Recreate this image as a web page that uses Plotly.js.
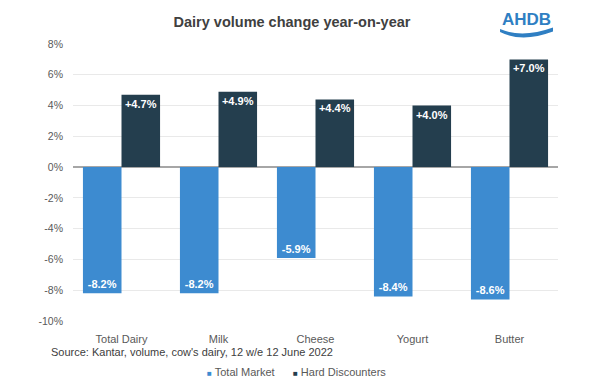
<!DOCTYPE html>
<html>
<head>
<meta charset="utf-8">
<script src="https://cdn.plot.ly/plotly-3.0.1.min.js"></script>
<style>html,body{margin:0;padding:0;background:#fff;}#chart{width:600px;height:390px;}</style>
</head>
<body>
<div id="chart"></div>
<script>
const categories = ["Total Dairy", "Milk", "Cheese", "Yogurt", "Butter"];
const totalMarket = [-8.2, -8.2, -5.9, -8.4, -8.6];
const hardDiscounters = [4.7, 4.9, 4.4, 4.0, 7.0];
const yTickVals = [-10, -8, -6, -4, -2, 0, 2, 4, 6, 8];
const yTickText = ["-10%", "-8%", "-6%", "-4%", "-2%", "0%", "2%", "4%", "6%", "8%"];
const seriesNames = ["Total Market", "Hard Discounters"];
const seriesColors = ["#3d8bd0", "#243e4e"];

const W = 600, H = 390;
const M = {l: 72.5, r: 42, t: 43.5, b: 69};
const pw = W - M.l - M.r, ph = H - M.t - M.b;
const px = x => (x - M.l) / pw;
const py = y => (H - M.b - y) / ph;

const fmt = v => (v > 0 ? "+" : "") + v.toFixed(1) + "%";
const font = "Liberation Sans, Arial, sans-serif";
const mk = (name, vals, color) => ({
  type: "bar", name: name, x: categories, y: vals,
  marker: {color: color},
  text: vals.map(v => "<b>" + fmt(v) + "</b>"), textposition: "inside", insidetextanchor: "end",
  textfont: {color: "#ffffff", size: 11, family: font}, hoverinfo: "skip", showlegend: false
});
const traces = [
  mk(seriesNames[0], totalMarket, seriesColors[0]),
  mk(seriesNames[1], hardDiscounters, seriesColors[1])
];

const wave = [[500,28.5],[553,27],[553,31],[500,31.5]];
const w = wave.map(p => [px(p[0]).toFixed(4), py(p[1]).toFixed(4)]);
const wavePath = `M ${w[0][0]},${w[0][1]} Q ${px(522).toFixed(4)},${py(38).toFixed(4)} ${w[1][0]},${w[1][1]} L ${w[2][0]},${w[2][1]} Q ${px(522).toFixed(4)},${py(42.5).toFixed(4)} ${w[3][0]},${w[3][1]} Z`;

const legendText = seriesNames.map((n, i) =>
  `<span style="color:${seriesColors[i]};font-size:8px">■</span> ${n}`).join("      ");

const layout = {
  width: W, height: H,
  margin: M,
  paper_bgcolor: "#ffffff", plot_bgcolor: "#ffffff",
  font: {family: font, color: "#595959", size: 11},
  title: {text: "<b>Dairy volume change year-on-year</b>", font: {family: font, size: 14.5, color: "#404040"},
          x: 292 / W, xanchor: "center", y: 1 - 22 / H, yanchor: "middle"},
  barmode: "group", bargap: 0.205, bargroupgap: 0,
  xaxis: {showgrid: false, showline: false, zeroline: false, ticks: "", ticklabelstandoff: 10,
          tickfont: {size: 11, color: "#595959"}},
  yaxis: {range: [-10, 8], tickvals: yTickVals, ticktext: yTickText, showgrid: true, gridcolor: "#e9e9e9", gridwidth: 1,
          zeroline: true, zerolinecolor: "#a6a6a6", zerolinewidth: 1.5, showline: false, ticks: "",
          ticklabelstandoff: 9, tickfont: {size: 10.5, color: "#595959"}},
  showlegend: false,
  annotations: [
    {text: "Source: Kantar, volume, cow's dairy, 12 w/e 12 June 2022", xref: "paper", yref: "paper",
     x: px(48), y: py(352), xanchor: "left", yanchor: "middle", showarrow: false,
     font: {size: 11, color: "#404040", family: font}},
    {text: legendText, xref: "paper", yref: "paper", x: px(296), y: py(372), xanchor: "center", yanchor: "middle",
     showarrow: false, font: {size: 11, color: "#595959", family: font}},
    {text: "<b>AHDB</b>", xref: "paper", yref: "paper", x: px(526), y: py(19), xanchor: "center", yanchor: "middle",
     showarrow: false, font: {size: 17, color: "#2f7fc3", family: "Liberation Sans Narrow, Liberation Sans, Arial"}}
  ],
  shapes: [
    {type: "path", xref: "paper", yref: "paper", path: wavePath, fillcolor: "#2f7fc3", line: {width: 0}}
  ]
};

Plotly.newPlot("chart", traces, layout, {displayModeBar: false, staticPlot: true});
</script>
</body>
</html>
